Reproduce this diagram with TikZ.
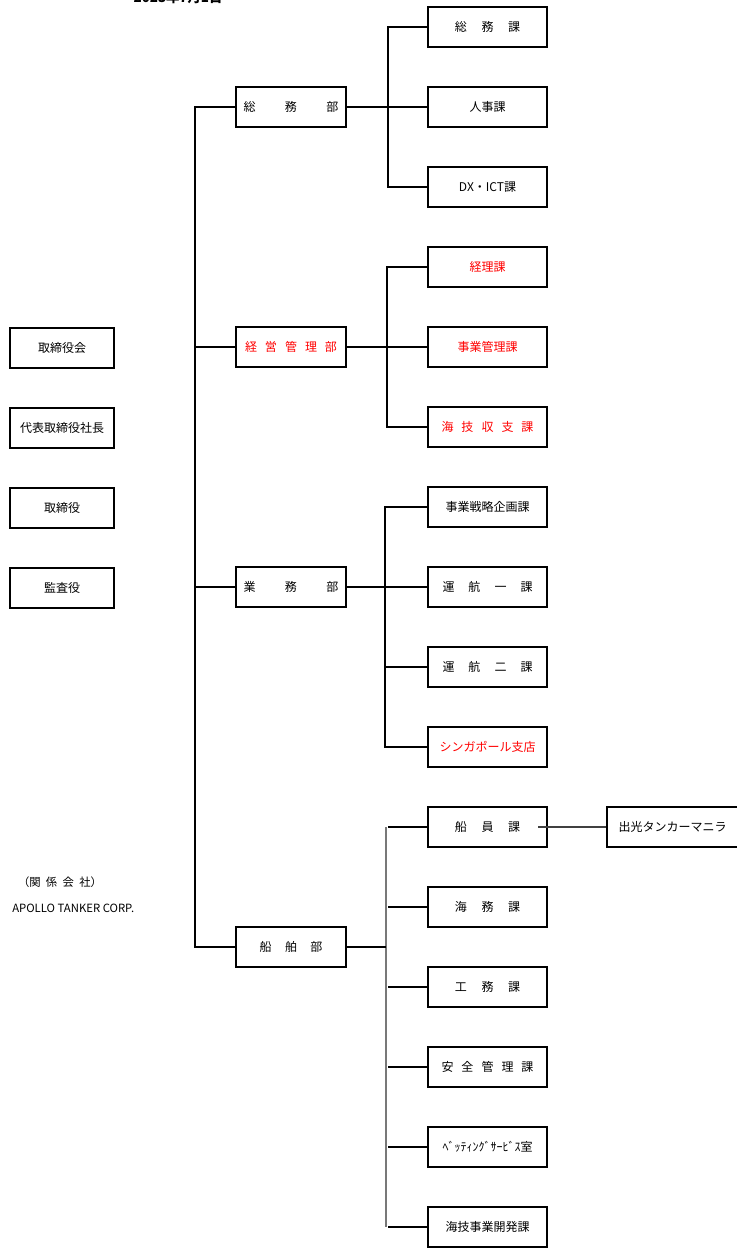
\documentclass[tikz,border=0pt]{standalone}
\usepackage{fontspec}
\setmainfont{Noto Sans CJK JP}
\definecolor{orgred}{RGB}{255,0,0}
\definecolor{linegray}{RGB}{120,120,120}
\newcommand{\gp}[1]{\hspace{#1}}
\begin{document}
\begin{tikzpicture}[x=0.75pt,y=-0.75pt,
  every node/.style={font=\fontsize{9}{11}\selectfont, inner sep=0pt},
  boxbase/.style={draw=black, line width=1.5pt, minimum height=30pt},
  leftbox/.style={boxbase, minimum width=78pt},
  deptbox/.style={boxbase, minimum width=82.5pt},
  secbox/.style={boxbase, minimum width=89.25pt},
  redtext/.style={text=orgred},
  conn/.style={line width=1.2pt, black},
  grayconn/.style={line width=1.2pt, linegray},
  thinconn/.style={line width=0.8pt, black}]
\useasboundingbox (0,0) rectangle (737,1248);
\clip (0,0) rectangle (737,1248);

% title
\node[font=\fontsize{10}{12}\selectfont\bfseries] (title) at (178,-3) {2023年7月1日};

% left column
\node[leftbox] (l1) at (62,348) {取締役会};
\node[leftbox] (l2) at (62,428) {代表取締役社長};
\node[leftbox] (l3) at (62,508) {取締役};
\node[leftbox] (l4) at (62,588) {監査役};
\node[font=\fontsize{8.5}{10}\selectfont] (kk) at (60,882) {（関\gp{4pt}係\gp{4pt}会\gp{4pt}社）};
\node[font=\fontsize{8.5}{10}\selectfont, anchor=west] (ap) at (12,908) {APOLLO TANKER CORP.};

% departments
\node[deptbox] (d1) at (291,107) {総\gp{22pt}務\gp{22pt}部};
\node[deptbox, redtext] (d2) at (291,347) {経\gp{6pt}営\gp{6pt}管\gp{6pt}理\gp{6pt}部};
\node[deptbox] (d3) at (291,587) {業\gp{22pt}務\gp{22pt}部};
\node[deptbox] (d4) at (291,947) {船\gp{10pt}舶\gp{10pt}部};

% sections
\node[secbox] (s1) at (487.5,27) {総\gp{11pt}務\gp{11pt}課};
\node[secbox] (s2) at (487.5,107) {人事課};
\node[secbox] (s3) at (487.5,187) {DX・ICT課};
\node[secbox, redtext] (s4) at (487.5,267) {経理課};
\node[secbox, redtext] (s5) at (487.5,347) {事業管理課};
\node[secbox, redtext] (s6) at (487.5,427) {海\gp{6pt}技\gp{6pt}収\gp{6pt}支\gp{6pt}課};
\node[secbox] (s7) at (487.5,507) {事業戦略企画課};
\node[secbox] (s8) at (487.5,587) {運\gp{10.5pt}航\gp{10.5pt}一\gp{10.5pt}課};
\node[secbox] (s9) at (487.5,667) {運\gp{10.5pt}航\gp{10.5pt}二\gp{10.5pt}課};
\node[secbox, redtext] (s10) at (487.5,747) {シンガポール支店};
\node[secbox] (s11) at (487.5,827) {船\gp{11pt}員\gp{11pt}課};
\node[secbox] (s12) at (487.5,907) {海\gp{11pt}務\gp{11pt}課};
\node[secbox] (s13) at (487.5,987) {工\gp{11pt}務\gp{11pt}課};
\node[secbox] (s14) at (487.5,1067) {安\gp{6pt}全\gp{6pt}管\gp{6pt}理\gp{6pt}課};
\node[secbox] (s15) at (487.5,1147) {ﾍﾞｯﾃｨﾝｸﾞｻｰﾋﾞｽ室};
\node[secbox] (s16) at (487.5,1227) {海技事業開発課};

% affiliate
\node[boxbase, minimum width=98.25pt] (m1) at (672.5,827) {出光タンカーマニラ};

% trunk
\coordinate (tk) at (195,0);
\draw[conn] (d1.west) -- (d1.west -| tk) -- (d4.west -| tk) -- (d4.west);
\draw[conn] (d2.west) -- (d2.west -| tk);
\draw[conn] (d3.west) -- (d3.west -| tk);

% branch 1
\coordinate (b1) at (388,0);
\draw[conn] (d1.east) -- (s2.west);
\draw[conn] (s1.west) -- (s1.west -| b1) -- (s3.west -| b1) -- (s3.west);

% branch 2
\coordinate (b2) at (387,0);
\draw[conn] (d2.east) -- (s5.west);
\draw[conn] (s4.west) -- (s4.west -| b2) -- (s6.west -| b2) -- (s6.west);

% branch 3
\coordinate (b3) at (385,0);
\draw[conn] (d3.east) -- (s8.west);
\draw[conn] (s7.west) -- (s7.west -| b3) -- (s10.west -| b3) -- (s10.west);
\draw[conn] (s9.west -| b3) -- (s9.west);

% branch 4
\coordinate (b4) at (386,0);
\draw[grayconn] (s11.west -| b4) -- (s16.west -| b4);
\draw[thinconn] (d4.east) -- (d4.east -| b4);
\foreach \s in {s11,s12,s13,s14,s15,s16}{
  \draw[conn] ([xshift=1.5pt]\s.west -| b4) -- (\s.west);
}

% affiliate connector
\draw[thinconn, draw=black!75] ([xshift=-7.5pt]s11.east) -- (m1.west);
\end{tikzpicture}
\end{document}
